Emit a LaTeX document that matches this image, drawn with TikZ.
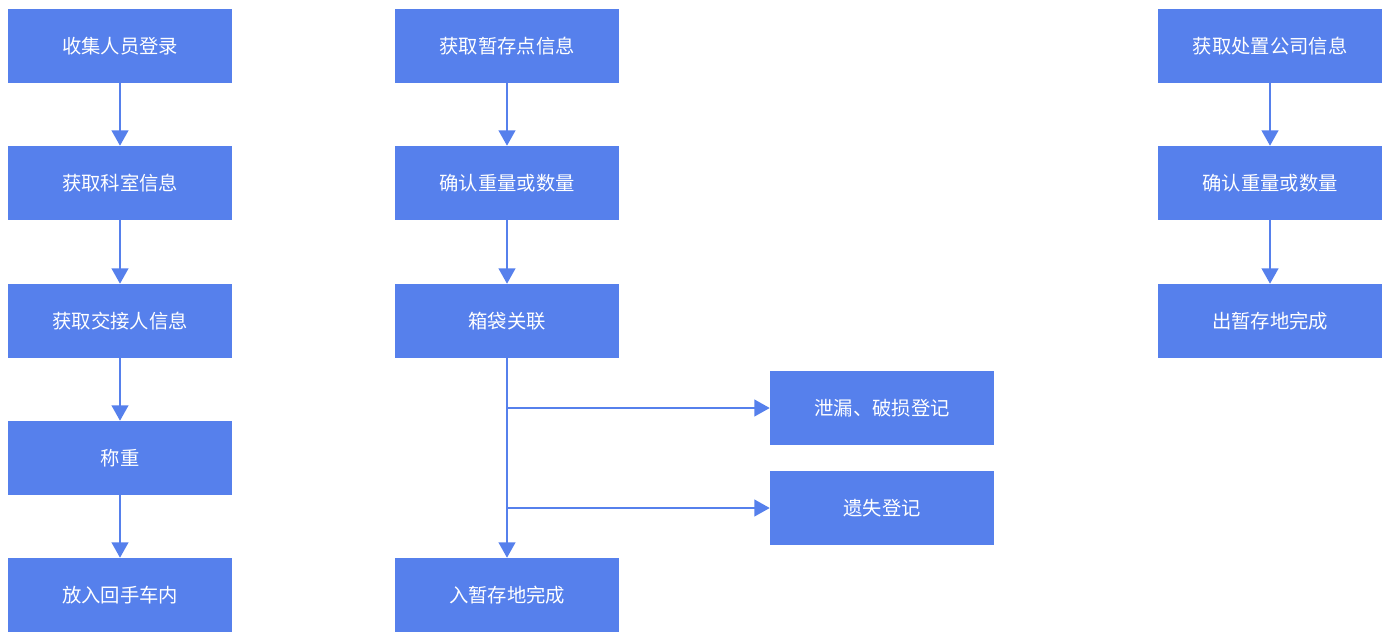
\documentclass[tikz,border=0pt]{standalone}
\usepackage{fontspec}
\usepackage{tikz}
\usetikzlibrary{arrows.meta}
\newfontfamily\cjk{Noto Sans CJK SC}
\definecolor{boxblue}{RGB}{86,128,236}

\tikzset{
    stepnode/.style={fill=boxblue, text=white, minimum width=168pt, minimum height=55.5pt,
        inner sep=0pt, font=\cjk\fontsize{14.5pt}{16pt}\selectfont},
    flow/.style={draw=boxblue, line width=1.5pt, -{Triangle[width=12.5pt,length=11.5pt]}}
}

\begin{document}
\begin{tikzpicture}[x=0.75pt,y=-0.75pt]

    \useasboundingbox (0,0) rectangle (1387,642);

    % left column
    \node[stepnode] (a1) at (120,46)  {收集人员登录};
    \node[stepnode] (a2) at (120,183) {获取科室信息};
    \node[stepnode] (a3) at (120,321) {获取交接人信息};
    \node[stepnode] (a4) at (120,458) {称重};
    \node[stepnode] (a5) at (120,595) {放入回手车内};

    % middle column
    \node[stepnode] (b1) at (507,46)  {获取暂存点信息};
    \node[stepnode] (b2) at (507,183) {确认重量或数量};
    \node[stepnode] (b3) at (507,321) {箱袋关联};
    \node[stepnode] (b4) at (507,595) {入暂存地完成};
    \node[stepnode] (s1) at (882,408) {泄漏、破损登记};
    \node[stepnode] (s2) at (882,508) {遗失登记};

    % right column
    \node[stepnode] (c1) at (1270,46)  {获取处置公司信息};
    \node[stepnode] (c2) at (1270,183) {确认重量或数量};
    \node[stepnode] (c3) at (1270,321) {出暂存地完成};

    \foreach \from/\to in {a1/a2,a2/a3,a3/a4,a4/a5,b1/b2,b2/b3,b3/b4,c1/c2,c2/c3}{%
        \draw[flow] (\from.south) -- (\to.north);
    }

    \coordinate (j1) at (b3.south |- s1.west);
    \coordinate (j2) at (b3.south |- s2.west);
    \draw[flow] (j1) -- (s1.west);
    \draw[flow] (j2) -- (s2.west);

\end{tikzpicture}
\end{document}
